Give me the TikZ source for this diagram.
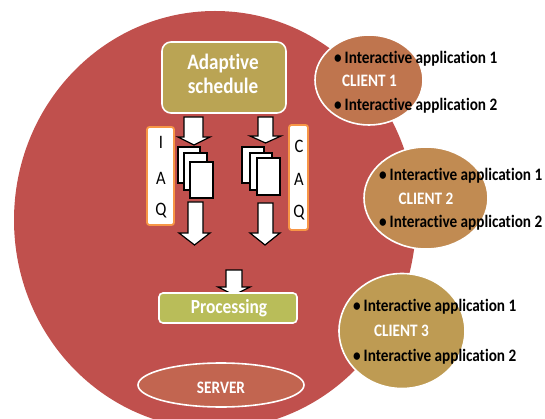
\documentclass[tikz,border=0pt]{standalone}
\usepackage{fontspec}
\setmainfont{Carlito}[FakeStretch=0.87, Ligatures=NoCommon]
\usetikzlibrary{shapes.geometric}
\definecolor{srvred}{HTML}{C0504D}
\definecolor{schedcol}{HTML}{BAA454}
\definecolor{proccol}{HTML}{B9BD59}
\definecolor{servercol}{HTML}{C26550}
\definecolor{cone}{HTML}{BF754E}
\definecolor{ctwo}{HTML}{C18B52}
\definecolor{cthree}{HTML}{BE9B53}
\definecolor{qorange}{HTML}{F79646}
\tikzset{
  boxbase/.style={draw=white, line width=1.6pt, inner sep=0pt},
  schedbox/.style={boxbase, rounded corners=9pt, fill=schedcol, minimum width=124pt, minimum height=71pt},
  procbox/.style={boxbase, rounded corners=4pt, fill=proccol, minimum width=138pt, minimum height=30pt},
  oval/.style={ellipse, draw=white, line width=1.6pt, inner sep=0pt},
  whitetxt/.style={text=white, font=\bfseries\fontsize{17.5}{20}\selectfont, inner sep=0pt, anchor=base},
  bigtxt/.style={text=white, font=\bfseries\fontsize{22}{24}\selectfont, inner sep=0pt, anchor=base},
  apptxt/.style={text=black, font=\bfseries\fontsize{17.5}{20}\selectfont, inner sep=0pt, anchor=base west},
  qbox/.style={draw=qorange, line width=1.8pt, fill=white, rounded corners=2.5pt, inner sep=0pt},
  qletter/.style={font=\fontsize{19}{20}\selectfont, inner sep=0pt, anchor=base},
  barrow/.style={draw=black, fill=white, line width=1.2pt, line join=miter},
  docsheet/.style={draw=black, fill=white, line width=1.3pt},
}
\begin{document}
\begin{tikzpicture}[x=1pt,y=-1pt]
\useasboundingbox (0,0) rectangle (545,419);
% server body
\begin{scope}
\clip (0,0) rectangle (545,419);
\fill[srvred] (215,220) ellipse [x radius=201, y radius=209];
\end{scope}

% adaptive schedule
\node[schedbox] (sched) at (224,77.5) {};
\node[bigtxt] (schedA) at (223,70) {Adaptive};
\node[bigtxt] (schedB) at (223,94) {schedule};

% queues
\node[qbox, minimum width=27pt, minimum height=98pt] (iaq) at (160.5,176) {};
\node[qletter] (iaqI) at (161,149) {I};
\node[qletter] (iaqA) at (161,185) {A};
\node[qletter] (iaqQ) at (161,216) {Q};
\node[qbox, minimum width=19pt, minimum height=105pt] (caq) at (298.5,177.5) {};
\node[qletter] (caqC) at (299,153) {C};
\node[qletter] (caqA) at (299,186) {A};
\node[qletter] (caqQ) at (299,218) {Q};

% block arrows
\draw[barrow] (184,117) -- (203,117) -- (203,137) -- (210,137) -- (194,145) -- (178,137) -- (184,137) -- cycle;
\draw[barrow] (258,117) -- (273,117) -- (273,136) -- (281,136) -- (265.5,143) -- (250,136) -- (258,136) -- cycle;
\draw[barrow] (188,202) -- (203,202) -- (203,233) -- (210,233) -- (194.5,245) -- (179,233) -- (188,233) -- cycle;
\draw[barrow] (258,203) -- (273,203) -- (273,233) -- (280,233) -- (265,245) -- (250,233) -- (258,233) -- cycle;
\draw[barrow] (226,270) -- (242,270) -- (242,287) -- (250,287) -- (234,295) -- (218,287) -- (226,287) -- cycle;

% document stacks
\draw[docsheet] (178,147) rectangle (200,183);
\draw[docsheet] (184,153) rectangle (207,190);
\draw[docsheet] (190,162) rectangle (213,198);
\draw[docsheet] (242,147) rectangle (264,183);
\draw[docsheet] (250,153) rectangle (272,190);
\draw[docsheet] (257,158) rectangle (280,195);

% processing
\node[procbox] (proc) at (228,308) {};
\node[text=white, font=\bfseries\fontsize{20}{22}\selectfont, inner sep=0pt, anchor=base] (proctxt) at (229,313.3) {Processing};

% server label
\node[oval, fill=servercol, minimum width=166pt, minimum height=44pt] (server) at (221,385) {};
\node[whitetxt] (servertxt) at (221,393.3) {SERVER};

% clients
\node[oval, fill=cone, minimum width=108pt, minimum height=90pt] (c1) at (369,80) {};
\node[whitetxt] (c1lab) at (369.5,86.7) {CLIENT 1};
\node[apptxt] (c1a) at (334,63.3) {\textbullet\,Interactive application 1};
\node[apptxt] (c1b) at (334,111) {\textbullet\,Interactive application 2};

\node[oval, fill=ctwo, minimum width=124pt, minimum height=102pt] (c2) at (426,198) {};
\node[whitetxt] (c2lab) at (426,205) {CLIENT 2};
\node[apptxt] (c2a) at (379,180.7) {\textbullet\,Interactive application 1};
\node[apptxt] (c2b) at (379,227.3) {\textbullet\,Interactive application 2};

\node[oval, fill=cthree, minimum width=126pt, minimum height=115pt] (c3) at (402,331) {};
\node[whitetxt] (c3lab) at (401.5,336.7) {CLIENT 3};
\node[apptxt] (c3a) at (353,311.7) {\textbullet\,Interactive application 1};
\node[apptxt] (c3b) at (353,361.7) {\textbullet\,Interactive application 2};
\end{tikzpicture}
\end{document}
